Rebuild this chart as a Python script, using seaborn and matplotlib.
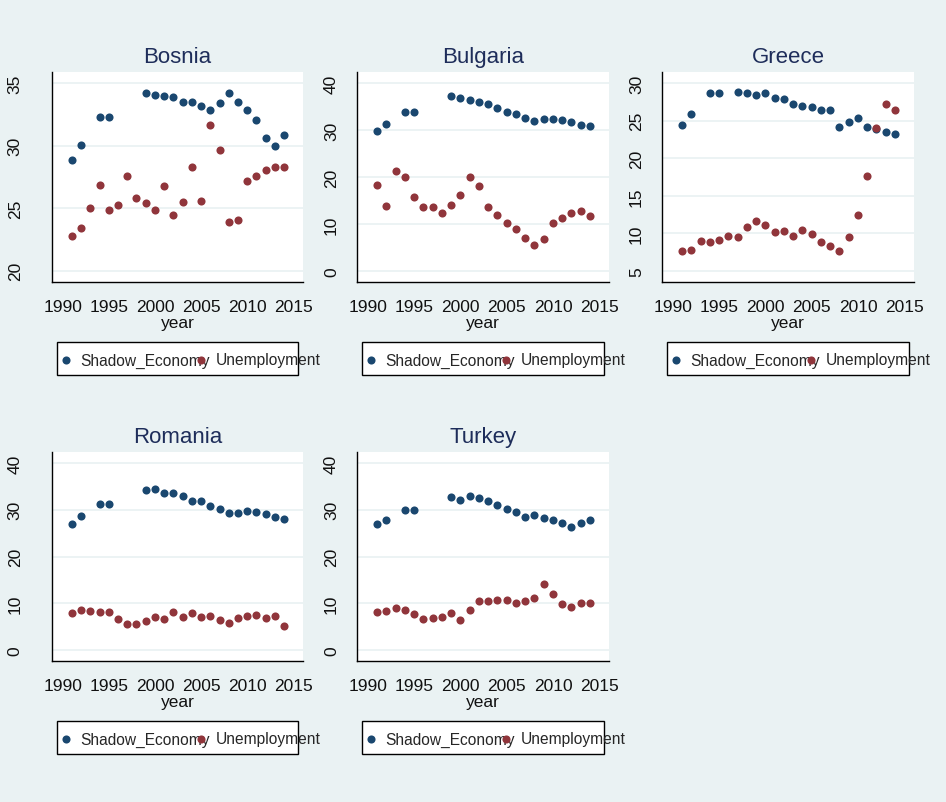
import numpy as np
import pandas as pd
import seaborn as sns
import matplotlib.pyplot as plt
from matplotlib.patches import Rectangle

nan = np.nan
years = list(range(1991, 2015))

# Shadow economy (% of GDP) and unemployment (%)
bosnia_shadow = [28.9, 30.1, nan, 32.3, 32.3, nan, nan, nan, 34.2, 34.1, 34.0, 33.9,
                 33.5, 33.5, 33.2, 32.9, 33.4, 34.2, 33.5, 32.9, 32.1, 30.6, 30.0, 30.9]
bosnia_unemp = [22.8, 23.4, 25.0, 26.9, 24.9, 25.3, 27.6, 25.8, 25.4, 24.9, 26.8, 24.5,
                25.5, 28.3, 25.6, 31.7, 29.7, 23.9, 24.1, 27.2, 27.6, 28.1, 28.3, 28.3]

bulgaria_shadow = [29.9, 31.3, nan, 33.9, 33.9, nan, nan, nan, 37.3, 36.9, 36.5, 36.0,
                   35.5, 34.8, 33.9, 33.4, 32.6, 32.0, 32.4, 32.4, 32.2, 31.7, 31.1, 30.8]
bulgaria_unemp = [18.4, 13.9, 21.3, 20.0, 15.7, 13.6, 13.7, 12.3, 14.1, 16.2, 19.9, 18.1,
                  13.7, 12.0, 10.2, 8.9, 7.0, 5.6, 6.8, 10.1, 11.2, 12.3, 12.8, 11.7]

greece_shadow = [24.5, 25.9, nan, 28.7, 28.7, nan, 28.8, 28.7, 28.5, 28.7, 28.1, 27.9,
                 27.3, 27.0, 26.9, 26.4, 26.4, 24.2, 24.9, 25.4, 24.2, 23.9, 23.5, 23.2]
greece_unemp = [7.7, 7.8, 9.0, 8.9, 9.1, 9.7, 9.5, 10.8, 11.7, 11.1, 10.2, 10.3,
                9.6, 10.5, 9.9, 8.9, 8.3, 7.7, 9.5, 12.5, 17.7, 24.1, 27.2, 26.4]

romania_shadow = [26.9, 28.6, nan, 31.3, 31.3, nan, nan, nan, 34.3, 34.5, 33.7, 33.6,
                  32.9, 32.0, 31.8, 30.8, 30.2, 29.4, 29.4, 29.7, 29.6, 29.1, 28.4, 28.1]
romania_unemp = [7.8, 8.6, 8.4, 8.1, 8.0, 6.7, 5.6, 5.6, 6.2, 7.1, 6.6, 8.1,
                 7.0, 7.9, 7.1, 7.2, 6.4, 5.8, 6.9, 7.2, 7.4, 6.9, 7.2, 5.2]

turkey_shadow = [26.9, 27.9, nan, 30.0, 30.0, nan, nan, nan, 32.7, 32.1, 32.9, 32.5,
                 31.9, 31.0, 30.1, 29.5, 28.5, 28.9, 28.2, 27.8, 27.2, 26.4, 27.2, 27.8]
turkey_unemp = [8.2, 8.4, 9.0, 8.6, 7.6, 6.6, 6.8, 7.0, 7.9, 6.4, 8.5, 10.4,
                10.4, 10.7, 10.6, 10.1, 10.4, 11.0, 14.1, 11.9, 9.8, 9.1, 10.1, 10.1]

countries = ["Bosnia", "Bulgaria", "Greece", "Romania", "Turkey"]
shadow = [bosnia_shadow, bulgaria_shadow, greece_shadow, romania_shadow, turkey_shadow]
unemp = [bosnia_unemp, bulgaria_unemp, greece_unemp, romania_unemp, turkey_unemp]
y_ticks = [[20, 25, 30, 35], [0, 10, 20, 30, 40], [5, 10, 15, 20, 25, 30],
           [0, 10, 20, 30, 40], [0, 10, 20, 30, 40]]
y_lims = [(19.1, 35.9), (-2.4, 42.4), (3.5, 31.5), (-2.4, 42.4), (-2.4, 42.4)]

BG = "#EAF2F3"
BLUE = "#1A476F"
RED = "#90353B"

sns.set_style("white")
plt.rcParams["font.family"] = ["Liberation Sans", "DejaVu Sans"]

W, H = 946, 803
fig = plt.figure(figsize=(W / 100, H / 100), dpi=100, facecolor=BG)

# panel boxes in pixels: left, top, right, bottom
boxes = [(52, 73, 303, 283), (357, 73, 609, 283), (662, 73, 914, 283),
         (52, 453, 303, 662), (357, 453, 609, 662)]
ylabel_pads = [15, 7, 7, 15, 7]

for i, name in enumerate(countries):
    l, t, r, b = boxes[i]
    ax = fig.add_axes([l / W, 1 - b / H, (r - l) / W, (b - t) / H])
    ax.set_facecolor("white")
    df = pd.DataFrame({"year": years, "Shadow_Economy": shadow[i], "Unemployment": unemp[i]})

    sns.scatterplot(data=df, x="year", y="Shadow_Economy", color=BLUE, s=34,
                    linewidth=0, ax=ax, label="Shadow_Economy")
    sns.scatterplot(data=df, x="year", y="Unemployment", color=RED, s=34,
                    linewidth=0, ax=ax, label="Unemployment")

    ax.set_xlim(1988.84, 2016.05)
    ax.set_ylim(*y_lims[i])
    ax.set_xticks([1990, 1995, 2000, 2005, 2010, 2015])
    ax.set_yticks(y_ticks[i])
    ax.yaxis.grid(True, color=BG, lw=1.3)
    ax.set_axisbelow(True)

    for s in ["top", "right"]:
        ax.spines[s].set_visible(False)
    for s in ["left", "bottom"]:
        ax.spines[s].set_color("black")
        ax.spines[s].set_linewidth(1.0)

    ax.tick_params(axis="both", direction="out", length=6, width=1, color="black",
                   labelsize=12.5, labelcolor="#111111")
    ax.tick_params(axis="x", pad=6)
    ax.tick_params(axis="y", pad=ylabel_pads[i], labelrotation=90)
    for lab in ax.get_yticklabels():
        lab.set_va("center")

    ax.set_xlabel("year", fontsize=12.5, labelpad=1, color="#111111")
    ax.set_ylabel("")
    ax.set_title(name, fontsize=16, color="#1E2D5A", pad=7)

    # legend box (Stata style), text overflowing like the original
    h = b - t
    w = r - l
    rect = Rectangle((5 / w, -(60 + 33) / h), (w - 10) / w, 33 / h, transform=ax.transAxes,
                     facecolor="white", edgecolor="black", lw=1, clip_on=False, zorder=4)
    ax.add_patch(rect)
    handles, labels = ax.get_legend_handles_labels()
    ax.legend(handles, labels, loc="center left",
              bbox_to_anchor=(7.5 / w, -78 / h), ncol=2, frameon=False,
              fontsize=11.2, handlelength=0.8, handletextpad=0.55,
              columnspacing=-1.0, borderpad=0, borderaxespad=0,
              scatterpoints=1, markerscale=1)

fig.savefig("out.png", dpi=100, facecolor=BG)
